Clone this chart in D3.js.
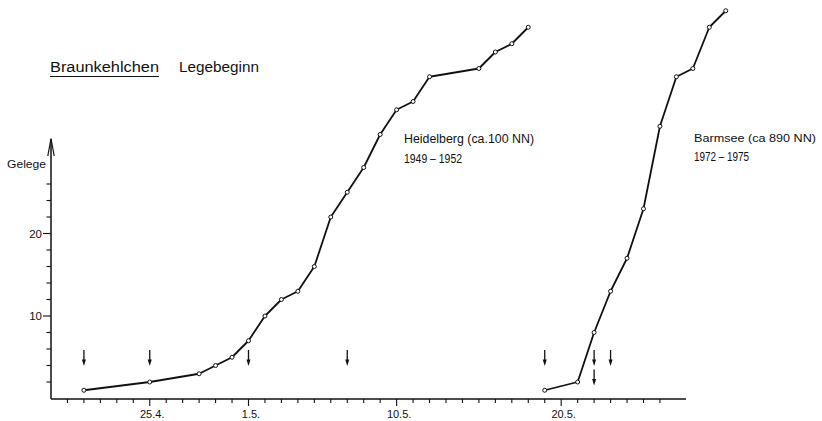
<!DOCTYPE html>
<html>
<head>
<meta charset="utf-8">
<script src="https://cdn.jsdelivr.net/npm/d3@7"></script>
<style>
  html, body { margin: 0; padding: 0; background: #fff; }
  svg { display: block; }
  text { font-family: "Liberation Sans", "DejaVu Sans", sans-serif; fill: #111; }
</style>
</head>
<body>
<svg id="chart" width="822" height="421"></svg>
<script>
// ---- data ----
const heidelbergDates  = ["21.4","25.4","28.4","29.4","30.4","1.5","2.5","3.5","4.5","5.5","6.5","7.5","8.5","9.5","10.5","11.5","12.5","15.5","16.5","17.5","18.5"];
const heidelbergValues = [1, 2, 3, 4, 5, 7, 10, 12, 13, 16, 22, 25, 28, 32, 35, 36, 39, 40, 42, 43, 45];
const barmseeDates  = ["19.5","21.5","22.5","23.5","24.5","25.5","26.5","27.5","28.5","29.5","30.5"];
const barmseeValues = [1, 2, 8, 13, 17, 23, 33, 39, 40, 45, 47];
const arrowsUpperDates = ["21.4","25.4","1.5","7.5","19.5","22.5","23.5"];
const arrowsLowerDates = ["22.5"];
const xTickLabels = ["25.4.","1.5.","10.5.","20.5."];
const yTickValues = [2,4,6,8,10,12,14,16,18,20,22,24,26];
const yTickLabels = [10, 20];

// ---- helpers ----
const parseDM = s => { const [d, m] = s.replace(/\.$/, "").split(".").map(Number); return new Date(2000, m - 1, d); };

const svg = d3.select("#chart");
const x = d3.scaleTime()
  .domain([new Date(2000, 3, 19), new Date(2000, 4, 27, 14)])
  .range([51, 686]);
const y = d3.scaleLinear().domain([0, 48]).range([398.5, 2.5]);

// ---- x axis ----
const xTicks = d3.timeDay.range(new Date(2000, 3, 20), new Date(2000, 4, 27));
const majorX = new Set(xTickLabels.map(s => +parseDM(s)));
svg.append("line").attr("x1", 51).attr("x2", 686).attr("y1", 399).attr("y2", 399)
  .attr("stroke", "#111").attr("stroke-width", 1.3);
svg.append("g").selectAll("line").data(xTicks).join("line")
  .attr("x1", d => x(d)).attr("x2", d => x(d))
  .attr("y1", 399).attr("y2", d => majorX.has(+d) ? 406 : 403)
  .attr("stroke", "#111").attr("stroke-width", 1.1);
svg.append("g").selectAll("text").data(xTickLabels).join("text")
  .attr("x", d => x(parseDM(d)) + 2.5).attr("y", 417.5)
  .attr("text-anchor", "middle").attr("font-size", 11)
  .text(d => d);

// ---- y axis ----
svg.append("line").attr("x1", 51).attr("x2", 51).attr("y1", 399).attr("y2", 139)
  .attr("stroke", "#111").attr("stroke-width", 1.5);
svg.append("path").attr("d", "M47.8,156 L51,138.5 L54.2,156")
  .attr("fill", "none").attr("stroke", "#111").attr("stroke-width", 1.2);
svg.append("g").selectAll("line").data(yTickValues).join("line")
  .attr("x1", d => yTickLabels.includes(d) ? 43 : 46.5).attr("x2", 51)
  .attr("y1", d => y(d)).attr("y2", d => y(d))
  .attr("stroke", "#111").attr("stroke-width", 1.1);
svg.append("g").selectAll("text").data(yTickLabels).join("text")
  .attr("x", 42).attr("y", d => y(d) + 4)
  .attr("text-anchor", "end").attr("font-size", 11.5)
  .text(d => d);
svg.append("text").attr("x", 7).attr("y", 167.5).attr("font-size", 11.5)
  .attr("textLength", 39).attr("lengthAdjust", "spacingAndGlyphs").text("Gelege");

// ---- arrows ----
function drawArrow(date, yTop) {
  const cx = x(parseDM(date));
  svg.append("line").attr("x1", cx).attr("x2", cx).attr("y1", yTop).attr("y2", yTop + 11)
    .attr("stroke", "#111").attr("stroke-width", 1.3);
  svg.append("path").attr("d", `M${cx - 2},${yTop + 9.5} L${cx + 2},${yTop + 9.5} L${cx},${yTop + 16} Z`)
    .attr("fill", "#111");
}
arrowsUpperDates.forEach(d => drawArrow(d, 350));
arrowsLowerDates.forEach(d => drawArrow(d, 369.5));

// ---- series ----
const line = d3.line().x(d => x(d.date)).y(d => y(d.value));
function drawSeries(dates, values) {
  const data = dates.map((d, i) => ({ date: parseDM(d), value: values[i] }));
  svg.append("path").datum(data).attr("d", line)
    .attr("fill", "none").attr("stroke", "#111").attr("stroke-width", 1.8)
    .attr("stroke-linejoin", "round");
  svg.append("g").selectAll("circle").data(data).join("circle")
    .attr("cx", d => x(d.date)).attr("cy", d => y(d.value)).attr("r", 2)
    .attr("fill", "#fff").attr("stroke", "#111").attr("stroke-width", 1);
}
drawSeries(heidelbergDates, heidelbergValues);
drawSeries(barmseeDates, barmseeValues);

// ---- labels ----
svg.append("text").attr("x", 50).attr("y", 72).attr("font-size", 14)
  .attr("textLength", 109).attr("lengthAdjust", "spacingAndGlyphs").text("Braunkehlchen");
svg.append("line").attr("x1", 50).attr("x2", 159).attr("y1", 76.5).attr("y2", 76.5)
  .attr("stroke", "#111").attr("stroke-width", 1.1);
svg.append("text").attr("x", 179).attr("y", 72).attr("font-size", 14)
  .attr("textLength", 80).attr("lengthAdjust", "spacingAndGlyphs").text("Legebeginn");

svg.append("text").attr("x", 404).attr("y", 143.3).attr("font-size", 12)
  .attr("textLength", 130).attr("lengthAdjust", "spacingAndGlyphs").text("Heidelberg (ca.100 NN)");
svg.append("text").attr("x", 404).attr("y", 162.7).attr("font-size", 12)
  .attr("textLength", 58).attr("lengthAdjust", "spacingAndGlyphs").text("1949 – 1952");
svg.append("text").attr("x", 694).attr("y", 141.7).attr("font-size", 11.5)
  .attr("textLength", 122).attr("lengthAdjust", "spacingAndGlyphs").text("Barmsee (ca 890 NN)");
svg.append("text").attr("x", 694).attr("y", 160.7).attr("font-size", 12)
  .attr("textLength", 55).attr("lengthAdjust", "spacingAndGlyphs").text("1972 – 1975");
</script>
</body>
</html>
